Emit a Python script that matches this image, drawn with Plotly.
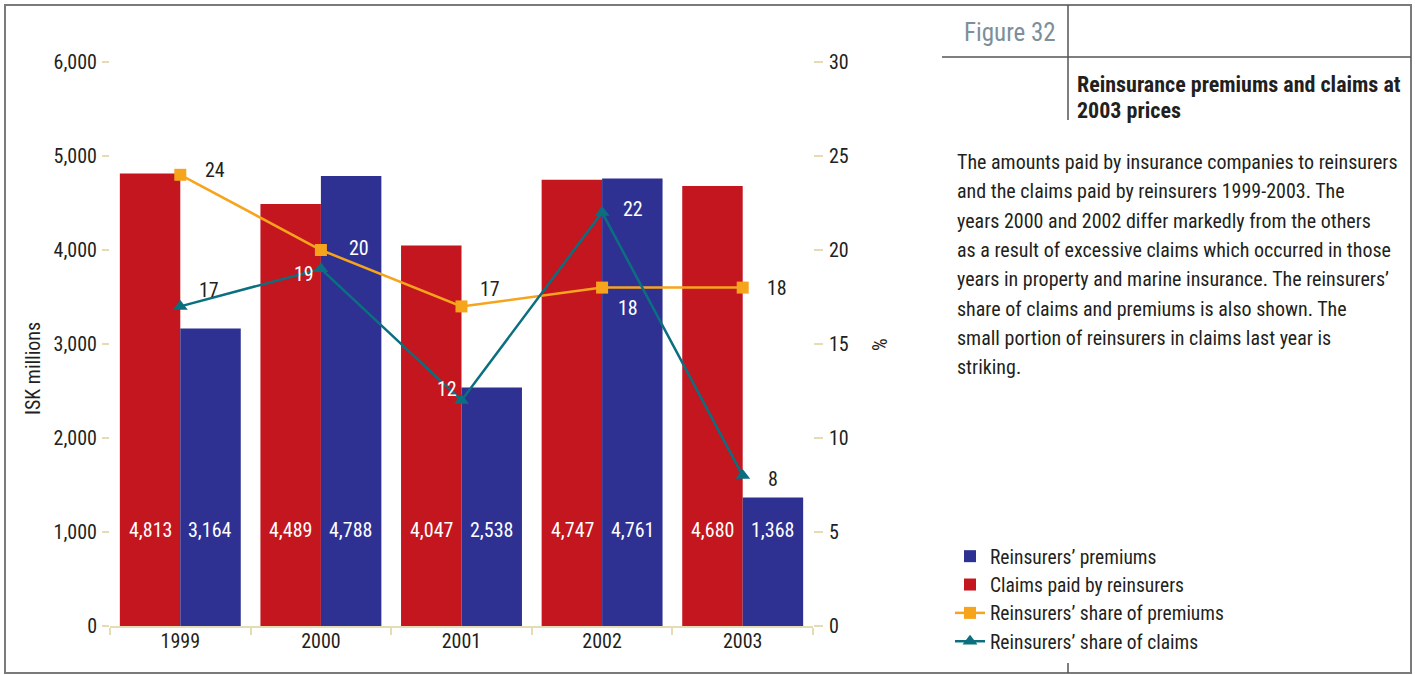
import plotly.graph_objects as go

# ---- data -------------------------------------------------------------
years = ["1999", "2000", "2001", "2002", "2003"]
claims_paid = [4813, 4489, 4047, 4747, 4680]          # ISK millions
premiums = [3164, 4788, 2538, 4761, 1368]             # ISK millions
share_premiums = [24, 20, 17, 18, 18]                 # %
share_claims = [17, 19, 12, 22, 8]                    # %

description_lines = [
    "The amounts paid by insurance companies to reinsurers",
    "and the claims paid by reinsurers 1999-2003. The",
    "years 2000 and 2002 differ markedly from the others",
    "as a result of excessive claims which occurred in those",
    "years in property and marine insurance. The reinsurers\u2019",
    "share of claims and premiums is also shown. The",
    "small portion of reinsurers in claims last year is",
    "striking.",
]

# ---- styling ----------------------------------------------------------
FONT = "Roboto Condensed, Liberation Sans, sans-serif"
RED = "#C3161E"
BLUE = "#2E3192"
ORANGE = "#F7A41D"
TEAL = "#0B6F80"
BEIGE = "#E4DDB4"
DARK = "#231F20"
FRAME = "#7A7A7A"

W, H = 1415, 675
PL, PR, PT, PB = 110, 813, 62, 626   # plot area in pixels

def px(x):
    return (x - PL) / (PR - PL)

def py(y):
    return (PB - y) / (PB - PT)

fig = go.Figure()

fig.add_trace(go.Bar(
    x=years, y=claims_paid, name="Claims paid by reinsurers",
    marker=dict(color=RED, line=dict(width=0)), legendrank=2,
    hoverinfo="skip",
))
fig.add_trace(go.Bar(
    x=years, y=premiums, name="Reinsurers\u2019 premiums",
    marker=dict(color=BLUE, line=dict(width=0)), legendrank=1,
    hoverinfo="skip",
))
fig.add_trace(go.Scatter(
    x=years, y=share_premiums, yaxis="y2", mode="lines+markers",
    name="Reinsurers\u2019 share of premiums",
    line=dict(color=ORANGE, width=2.5),
    marker=dict(symbol="square", size=12, color=ORANGE),
    legendrank=3,
))
fig.add_trace(go.Scatter(
    x=years, y=share_claims, yaxis="y2", mode="lines+markers",
    name="Reinsurers\u2019 share of claims",
    line=dict(color=TEAL, width=2.5),
    marker=dict(symbol="triangle-up", size=13, color=TEAL),
    legendrank=4,
))

annotations = []

# value labels near the base of each bar (x given as category index)
for i in range(len(years)):
    for vals, shift in ((claims_paid, -30), (premiums, 30)):
        annotations.append(dict(
            x=i, y=1020, xref="x", yref="y", xshift=shift,
            xanchor="center", yanchor="middle",
            text=f"{vals[i]:,}", showarrow=False,
            font=dict(family=FONT, size=20, color="white"),
        ))

# percentage labels beside the line markers (pixel offsets, label colour)
prem_offsets = [(35, 5, DARK), (38, 2, "white"), (28, 17, DARK), (26, -20, "white"), (34, 0, DARK)]
claim_offsets = [(29, 16, DARK), (-17, -5, "white"), (-15, 11, "white"), (31, 3, "white"), (30, -3, DARK)]
for series, offsets in ((share_premiums, prem_offsets), (share_claims, claim_offsets)):
    for i, (v, (dx, dy, col)) in enumerate(zip(series, offsets)):
        annotations.append(dict(
            x=i, y=v, xref="x", yref="y2", xshift=dx, yshift=dy,
            xanchor="center", yanchor="middle",
            text=str(v), showarrow=False,
            font=dict(family=FONT, size=20, color=col),
        ))

# axis titles
annotations.append(dict(
    x=px(33), y=py(369), xref="paper", yref="paper", text="ISK millions",
    xanchor="center", yanchor="middle",
    textangle=-90, showarrow=False, font=dict(family=FONT, size=20, color=DARK),
))
annotations.append(dict(
    x=px(880), y=py(345), xref="paper", yref="paper", text="%",
    xanchor="center", yanchor="middle",
    textangle=-90, showarrow=False, font=dict(family=FONT, size=20, color=DARK),
))

# side panel: figure number, title and description
annotations.append(dict(
    x=px(1058), y=py(32), xref="paper", yref="paper", xanchor="right", yanchor="middle",
    text="Figure 32", showarrow=False,
    font=dict(family=FONT, size=25, color="#7C8F9A"),
))
for text, ypix in (("Reinsurance premiums and claims at", 85), ("2003 prices", 110)):
    annotations.append(dict(
        x=px(1075), y=py(ypix), xref="paper", yref="paper", xanchor="left", yanchor="middle",
        text=f"<b>{text}</b>", showarrow=False,
        font=dict(family=FONT, size=22, color=DARK),
    ))
for k, line in enumerate(description_lines):
    annotations.append(dict(
        x=px(955), y=py(162 + k * 29.3), xref="paper", yref="paper",
        xanchor="left", yanchor="middle",
        text=line, showarrow=False,
        font=dict(family=FONT, size=20, color=DARK),
    ))

shapes = [
    # outer frame
    dict(type="rect", xref="paper", yref="paper", x0=px(5), x1=px(1411), y0=py(673), y1=py(5),
         line=dict(color=FRAME, width=2)),
    # side panel rules
    dict(type="line", xref="paper", yref="paper", x0=px(942), x1=px(1411), y0=py(57), y1=py(57),
         line=dict(color="#555555", width=1.5)),
    dict(type="line", xref="paper", yref="paper", x0=px(1068), x1=px(1068), y0=py(5), y1=py(120),
         line=dict(color="#555555", width=1.5)),
    dict(type="line", xref="paper", yref="paper", x0=px(1068), x1=px(1068), y0=py(663), y1=py(673),
         line=dict(color="#555555", width=1.5)),
]

fig.update_layout(
    width=W, height=H,
    margin=dict(l=PL, r=W - PR, t=PT, b=H - PB, autoexpand=False),
    paper_bgcolor="white", plot_bgcolor="white",
    font=dict(family=FONT, size=20, color=DARK),
    barmode="group", bargap=0.14, bargroupgap=0,
    showlegend=True,
    legend=dict(
        x=px(950), y=py(537), xanchor="left", yanchor="top",
        xref="paper", yref="paper",
        font=dict(family=FONT, size=19.5, color=DARK),
        bgcolor="rgba(0,0,0,0)", tracegroupgap=0, itemwidth=30,
    ),
    xaxis=dict(
        type="category", range=[-0.5, len(years) - 0.5],
        showgrid=False, zeroline=False,
        showline=True, linecolor=BEIGE, linewidth=2,
        ticks="outside", tickson="boundaries", ticklen=7, tickwidth=2, tickcolor=BEIGE,
        ticklabelstandoff=-4,
        tickfont=dict(family=FONT, size=20, color=DARK),
    ),
    yaxis=dict(
        range=[0, 6000], tickvals=[0, 1000, 2000, 3000, 4000, 5000, 6000],
        tickformat=",", showgrid=False, zeroline=False, showline=False,
        ticks="outside", ticklen=7, tickwidth=2, tickcolor=BEIGE,
        ticklabelstandoff=1,
        tickfont=dict(family=FONT, size=20, color=DARK),
    ),
    yaxis2=dict(
        range=[0, 30], tickvals=[0, 5, 10, 15, 20, 25, 30],
        overlaying="y", side="right", showgrid=False, zeroline=False, showline=False,
        ticks="outside", ticklen=9, tickwidth=2, tickcolor=BEIGE,
        ticklabelstandoff=2,
        tickfont=dict(family=FONT, size=20, color=DARK),
    ),
    annotations=annotations,
    shapes=shapes,
)

fig.write_html("out.html")
